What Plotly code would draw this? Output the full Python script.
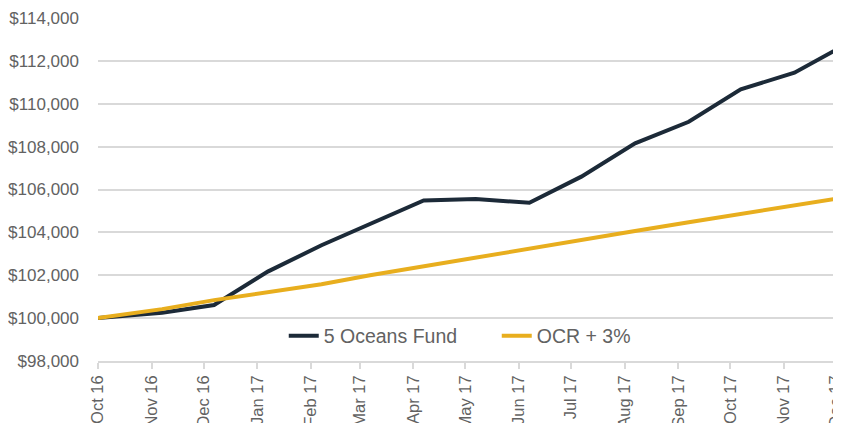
import plotly.graph_objects as go

dates = ["2016-10-01", "2016-11-07", "2016-12-07", "2017-01-07", "2017-02-07",
         "2017-03-07", "2017-04-07", "2017-05-07", "2017-06-07", "2017-07-07",
         "2017-08-07", "2017-09-07", "2017-10-07", "2017-11-07", "2017-12-07"]
fund = [100000, 100250, 100610, 102170, 103400, 104400, 105490, 105560, 105380,
        106600, 108150, 109160, 110670, 111450, 112780]
ocr = [100000, 100420, 100840, 101230, 101580, 102000, 102420, 102840, 103250,
       103680, 104060, 104470, 104860, 105250, 105650]
tick_dates = ["2016-10-01", "2016-11-01", "2016-12-01", "2017-01-01", "2017-02-01",
              "2017-03-01", "2017-04-01", "2017-05-01", "2017-06-01", "2017-07-01",
              "2017-08-01", "2017-09-01", "2017-10-01", "2017-11-01", "2017-12-01"]
tick_labels = ["Oct 16", "Nov 16", "Dec 16", "Jan 17", "Feb 17", "Mar 17", "Apr 17",
               "May 17", "Jun 17", "Jul 17", "Aug 17", "Sep 17", "Oct 17", "Nov 17", "Dec 17"]
y_ticks = [98000, 100000, 102000, 104000, 106000, 108000, 110000, 112000, 114000]
y_labels = ["$98,000", "$100,000", "$102,000", "$104,000", "$106,000", "$108,000",
            "$110,000", "$112,000", "$114,000"]

FONT = "Liberation Sans, Arial, sans-serif"
GREY = "#626262"

fig = go.Figure()
fig.add_trace(go.Scatter(x=dates, y=fund, name="5 Oceans Fund", mode="lines",
                         line=dict(color="#1c2a38", width=4)))
fig.add_trace(go.Scatter(x=dates, y=ocr, name="OCR + 3%", mode="lines",
                         line=dict(color="#e8ae1e", width=4)))

# page body has an 8px default margin, so the figure is offset to compensate
fig.update_layout(
    width=841, height=430,
    margin=dict(l=90, r=8, t=10, b=77),
    paper_bgcolor="white", plot_bgcolor="white",
    font=dict(family=FONT, color=GREY),
    showlegend=True,
    legend=dict(orientation="h", x=0.25, xanchor="left", y=0.073, yanchor="middle",
                font=dict(size=19.5, color=GREY, family=FONT),
                bgcolor="rgba(0,0,0,0)", entrywidth=168, entrywidthmode="pixels"),
    xaxis=dict(type="date", range=["2016-10-01", "2017-12-03 21:00"],
               tickvals=tick_dates, ticktext=tick_labels, tickangle=-90,
               tickfont=dict(size=16.5, color=GREY), ticklabeloverflow="allow",
               showgrid=False, showline=True, linecolor="#d9d9d9", linewidth=1.5,
               ticks="outside", ticklen=6, tickcolor="#d9d9d9", tickwidth=1.5,
               automargin=False, zeroline=False),
    yaxis=dict(range=[98000, 114000], tickvals=y_ticks, ticktext=y_labels,
               tickfont=dict(size=17, color=GREY),
               showgrid=True, gridcolor="#d9d9d9", gridwidth=1.5,
               showline=False, zeroline=False, ticks="", ticklabelstandoff=18,
               automargin=False),
)

fig.write_html("out.html")
